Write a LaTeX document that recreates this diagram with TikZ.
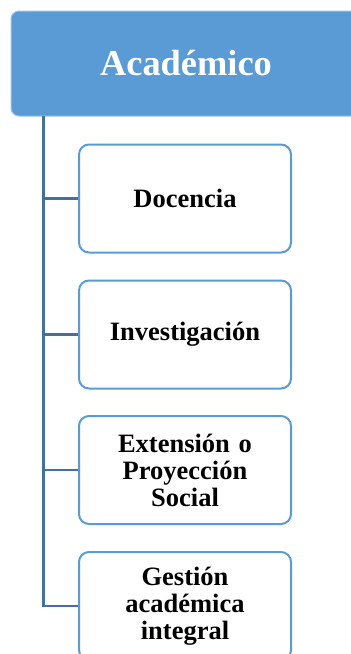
\documentclass[tikz,border=0pt]{standalone}
\usepackage{fontspec}
\setmainfont{Liberation Serif}
\definecolor{topfill}{HTML}{5B9BD5}
\definecolor{topedge}{HTML}{9DC3E6}
\definecolor{kidedge}{HTML}{5B9BD5}
\definecolor{trunk}{HTML}{41719C}
\begin{document}
\begin{tikzpicture}[x=1pt,y=-1pt,
  topbox/.style={draw=topedge,line width=1pt,fill=topfill,rounded corners=8pt,
    minimum width=350pt,minimum height=105pt,inner sep=0pt,text=white,
    font=\fontsize{36.4}{38}\selectfont\bfseries},
  kidbox/.style={draw=kidedge,line width=2pt,fill=white,rounded corners=10pt,
    minimum width=212pt,minimum height=108pt,inner sep=0pt,align=center,
    text width=200pt,font=\fontsize{26.5}{27}\selectfont\bfseries},
  link/.style={draw=trunk,line width=2.6pt}]
\useasboundingbox (0,0) rectangle (351,654);
\node[topbox] (top) at (186,63.5) {Académico};
\coordinate (t0) at (43.5,116);
\node[kidbox] (d) at (185,198.5) {Docencia};
\node[kidbox] (i) at (185,334.5) {Investigación};
\node[kidbox] (e) at (185,470) {Extensión o\\Proyección\\Social};
\node[kidbox] (g) at (185,606) {Gestión\\académica\\integral};
\begin{scope}[on background layer/.try]
\end{scope}
\draw[link] (t0) |- (g.west);
\draw[link] (t0 |- d.west) -- (d.west);
\draw[link] (t0 |- i.west) -- (i.west);
\draw[link] (t0 |- e.west) -- (e.west);
\end{tikzpicture}
\end{document}
